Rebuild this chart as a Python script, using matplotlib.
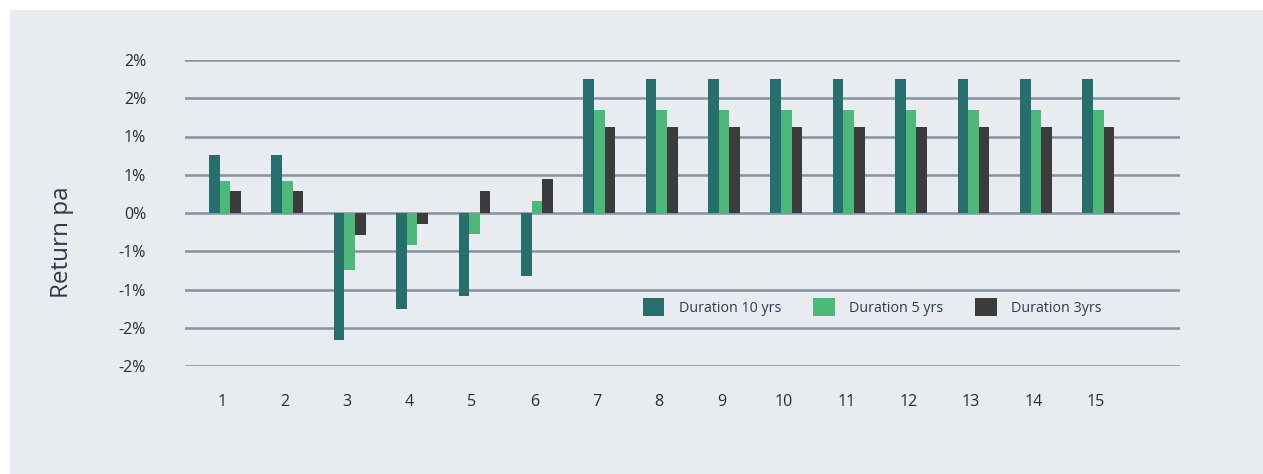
import numpy as np
import matplotlib.pyplot as plt
from matplotlib.patches import Rectangle

plt.rcParams['font.family'] = ['Open Sans', 'DejaVu Sans']

categories = [str(i) for i in range(1, 16)]
dur10 = [0.76, 0.76, -1.66, -1.26, -1.09, -0.82, 1.75, 1.75, 1.75, 1.75, 1.75, 1.75, 1.75, 1.75, 1.75]
dur5 = [0.42, 0.42, -0.75, -0.42, -0.28, 0.16, 1.34, 1.34, 1.34, 1.34, 1.34, 1.34, 1.34, 1.34, 1.34]
dur3 = [0.29, 0.29, -0.29, -0.15, 0.29, 0.44, 1.12, 1.12, 1.12, 1.12, 1.12, 1.12, 1.12, 1.12, 1.12]
yticks = [-2.0, -1.5, -1.0, -0.5, 0.0, 0.5, 1.0, 1.5, 2.0]
ytick_labels = ['-2%', '-2%', '-1%', '-1%', '0%', '1%', '1%', '2%', '2%']

colorlist = ['#276F6D', '#4DB87A', '#3C3C3C']
bg = '#E8ECF1'

fig = plt.figure(figsize=(12.63, 4.74), dpi=100, facecolor='white')
fig.patches.append(Rectangle((10/1263, 0), 1 - 10/1263, 1 - 10/474, transform=fig.transFigure,
                             facecolor=bg, edgecolor='none', zorder=-10))
ax = fig.add_axes([185/1263, 1 - 366/474, 995/1263, 306/474])
ax.set_facecolor(bg)

x = np.arange(len(categories))
w = 0.17
shift = 0.04
ax.bar(x - w + shift, dur10, w, color=colorlist[0], label='Duration 10 yrs', zorder=3)
ax.bar(x + shift, dur5, w, color=colorlist[1], label='Duration 5 yrs', zorder=3)
ax.bar(x + w + shift, dur3, w, color=colorlist[2], label='Duration 3yrs', zorder=3)

ax.set_xlim(-0.6, 15.35)
ax.set_ylim(-2.0, 2.0)
ax.set_yticks(yticks)
ax.set_yticklabels(ytick_labels)
ax.set_xticks(x)
ax.set_xticklabels(categories)
ax.grid(axis='y', color='#8592A0', linewidth=1.8, zorder=1)
ax.tick_params(axis='both', length=0, labelsize=11.5, colors='#2B2B2B')
ax.tick_params(axis='y', pad=28)
ax.tick_params(axis='x', pad=20)
for s in ax.spines.values():
    s.set_visible(False)

fig.text(62/1263, 1 - 242/474, 'Return pa', rotation=90, ha='center', va='center',
         fontsize=17.5, color='#2B3A4A')

ax.legend(loc='center left', bbox_to_anchor=(0.453, 0.193), ncol=3, frameon=False,
          handlelength=1.5, handleheight=1.5, handletextpad=1.0, columnspacing=2.25,
          borderpad=0, fontsize=10.3, labelcolor='#2B3A4A')

fig.savefig('out.png', dpi=100, facecolor=fig.get_facecolor())
